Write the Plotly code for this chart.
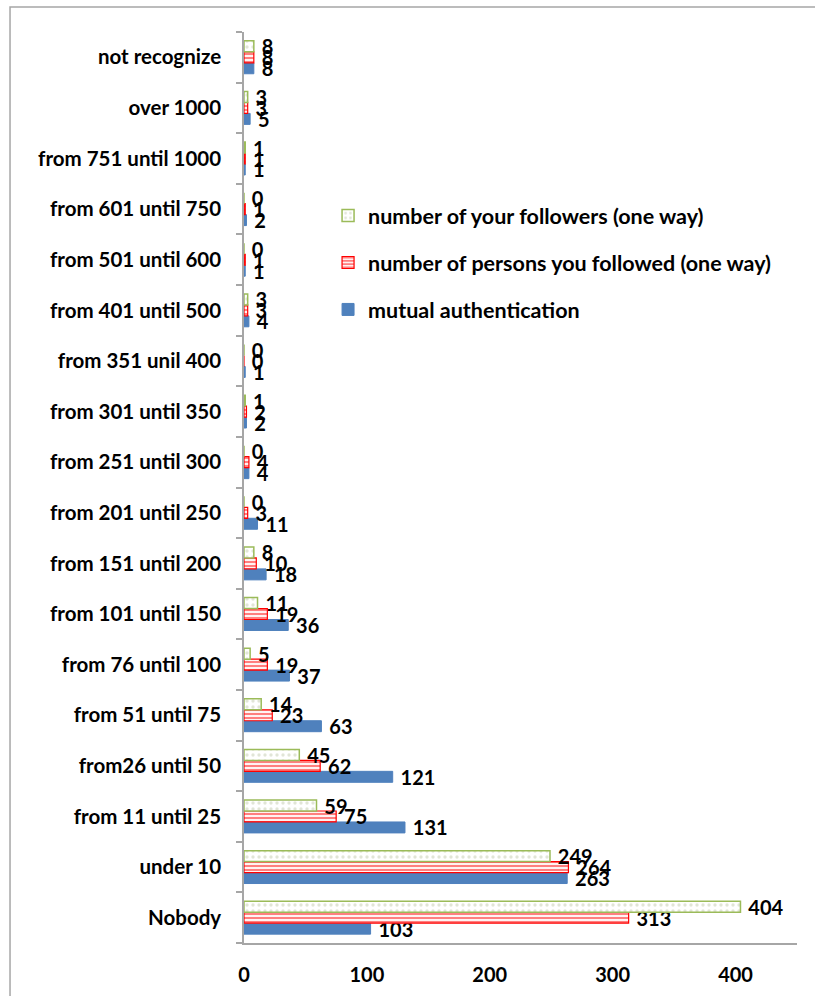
import plotly.graph_objects as go

categories = ["Nobody", "under 10", "from 11 until 25", "from26 until 50", "from 51 until 75",
              "from 76 until 100", "from 101 until 150", "from 151 until 200", "from 201 until 250",
              "from 251 until 300", "from 301 until 350", "from 351 unil 400", "from 401 until 500",
              "from 501 until 600", "from 601 until 750", "from 751 until 1000", "over 1000",
              "not recognize"]
mutual = [103, 263, 131, 121, 63, 37, 36, 18, 11, 4, 2, 1, 4, 1, 2, 1, 5, 8]
persons_followed = [313, 264, 75, 62, 23, 19, 19, 10, 3, 4, 2, 0, 3, 1, 1, 1, 3, 8]
followers = [404, 249, 59, 45, 14, 5, 11, 8, 0, 0, 1, 0, 3, 0, 0, 1, 3, 8]

FONT = "Lato"
label_font = dict(family=FONT, size=20, color="black", weight="bold")

fig = go.Figure()
fig.add_trace(go.Bar(
    y=categories, x=mutual, orientation="h", name="mutual authentication",
    legendgroup="a", legendrank=3,
    marker=dict(color="#4F81BD", line=dict(color="#4F81BD", width=1)),
    text=mutual, texttemplate="\u00a0%{x}", textposition="outside",
    textfont=label_font, constraintext="none", cliponaxis=False,
))
fig.add_trace(go.Bar(
    y=categories, x=persons_followed, orientation="h", name="number of persons you followed (one way)",
    legendgroup="b", legendrank=2,
    marker=dict(color="white", line=dict(color="#FF0000", width=1.2),
                pattern=dict(shape="-", fgcolor="#FF0000", bgcolor="white", size=4, solidity=0.55)),
    text=persons_followed, texttemplate="\u00a0%{x}", textposition="outside",
    textfont=label_font, constraintext="none", cliponaxis=False,
))
fig.add_trace(go.Bar(
    y=categories, x=followers, orientation="h", name="number of your followers (one way)",
    legendgroup="c", legendrank=1,
    marker=dict(color="white", line=dict(color="#9BBB59", width=1.5),
                pattern=dict(shape=".", fgcolor="#C4CBB0", bgcolor="white", size=6, solidity=0.25)),
    text=followers, texttemplate="\u00a0%{x}", textposition="outside",
    textfont=label_font, constraintext="none", cliponaxis=False,
))

fig.update_layout(
    width=815, height=996,
    margin=dict(l=244, r=18, t=32, b=53),
    paper_bgcolor="white", plot_bgcolor="white",
    barmode="group", bargap=0.35, bargroupgap=0,
    font=dict(family=FONT, size=20, color="black", weight="bold"),
    legend=dict(x=0.152, y=0.821, xanchor="left", yanchor="top",
                traceorder="grouped", tracegroupgap=16,
                font=dict(family=FONT, size=21.5, color="black", weight="bold"),
                bgcolor="rgba(0,0,0,0)"),
    xaxis=dict(range=[0, 450], dtick=100, tick0=0, showgrid=False, zeroline=False,
               showline=True, linecolor="#A6A6A6", linewidth=1.5, ticks="",
               tickfont=dict(family=FONT, size=20, color="black", weight="bold"),
               ticklabelstandoff=13, automargin=False),
    yaxis=dict(showgrid=False, zeroline=False, showline=True, linecolor="#A6A6A6", linewidth=1.5,
               ticks="outside", ticklen=6, tickcolor="#A6A6A6", tickwidth=1.5, tickson="boundaries",
               tickfont=dict(family=FONT, size=20.5, color="black", weight="bold"),
               ticklabelstandoff=17, automargin=False),
    shapes=[dict(type="rect", xref="paper", yref="paper",
                 x0=-0.4231, x1=1.3, y0=-0.3, y1=1.0274,
                 line=dict(color="#A6A6A6", width=1.5), fillcolor="rgba(0,0,0,0)", layer="below")],
)

fig.write_html("out.html", config={"displayModeBar": False},
               post_script="document.body.style.margin='0';document.body.style.overflow='hidden';")
